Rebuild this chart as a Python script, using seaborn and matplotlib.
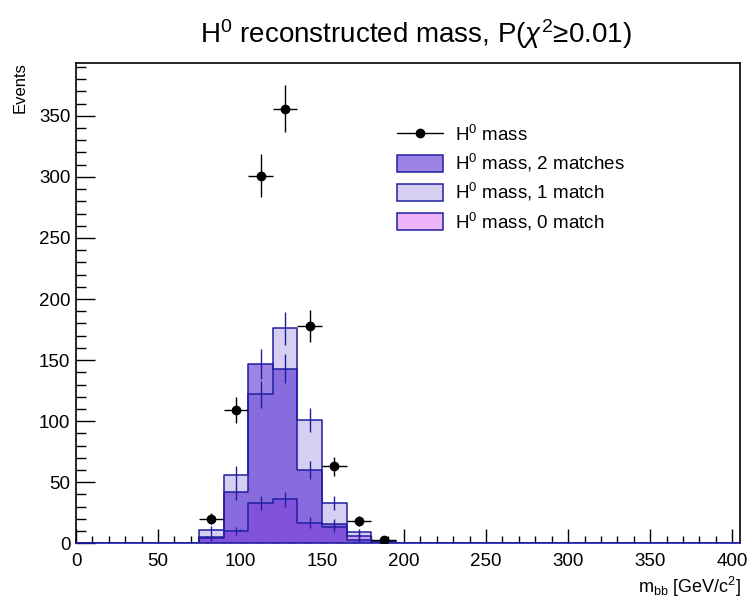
import numpy as np
import pandas as pd
import matplotlib
matplotlib.use("Agg")
import matplotlib.pyplot as plt
from matplotlib.lines import Line2D
from matplotlib.patches import Patch
from matplotlib.ticker import MultipleLocator
import seaborn as sns

# histogram binning (GeV/c^2)
bin_width = 15
x_max = 405
first_filled = 75  # low edge of first non-empty bin

# counts in the non-empty bins 75-90 ... 180-195
data_counts = [20, 109, 301, 356, 178, 63, 18, 3]
match2_counts = [5, 42, 147, 143, 60, 16, 3, 0]
match1_counts = [11, 56, 122, 176, 101, 33, 9, 2]
match0_counts = [4, 10, 33, 36, 17, 13, 6, 1]

labels = ["H$^{0}$ mass", "H$^{0}$ mass, 2 matches", "H$^{0}$ mass, 1 match", "H$^{0}$ mass, 0 match"]

sns.set_style("ticks")
plt.rcParams['font.family'] = ['Liberation Sans', 'DejaVu Sans']
plt.rcParams['mathtext.fontset'] = 'custom'
plt.rcParams['mathtext.rm'] = 'Liberation Sans'
plt.rcParams['mathtext.it'] = 'Liberation Sans:italic'
for k in ['text.color', 'axes.labelcolor', 'xtick.color', 'ytick.color', 'axes.edgecolor']:
    plt.rcParams[k] = 'black'

edges = np.arange(0, x_max + bin_width, bin_width)
centers = edges[:-1] + bin_width / 2
n_bins = len(centers)
start = first_filled // bin_width


def full(vals):
    out = np.zeros(n_bins)
    out[start:start + len(vals)] = vals
    return pd.DataFrame({"mass": centers, "w": out})


blue = "#1f1fa0"
fills = [
    (match0_counts, (238/255, 180/255, 250/255, 1.0)),
    (match1_counts, (125/255, 98/255, 215/255, 0.30)),
    (match2_counts, (59/255, 11/255, 203/255, 0.50)),
]

fig = plt.figure(figsize=(7.51, 6.06), dpi=100)
ax = fig.add_axes([0.1012, 0.1035, 0.8846, 0.792])

bin_list = [float(e) for e in edges]
for vals, fc in fills:
    sns.histplot(data=full(vals), x="mass", weights="w", bins=bin_list, element="step", fill=True,
                 facecolor=fc, edgecolor="none", linewidth=0, ax=ax)
for vals, fc in fills:
    sns.histplot(data=full(vals), x="mass", weights="w", bins=bin_list, element="step", fill=False,
                 color=blue, linewidth=1.1, ax=ax)
    v = np.array(vals, dtype=float)
    c = centers[start:start + len(vals)]
    nz = v > 0
    ax.errorbar(c[nz], v[nz], yerr=np.sqrt(v[nz]), fmt="none", ecolor=blue, elinewidth=1.0)

d = np.array(data_counts, dtype=float)
cd = centers[start:start + len(d)]
ax.errorbar(cd, d, xerr=bin_width / 2, yerr=np.sqrt(d), fmt="o", color="black",
            ms=6, elinewidth=1.0, capsize=0, zorder=5)

ax.set_xlim(0, x_max)
ax.set_ylim(0, 393)
ax.set_xlabel("")
ax.set_ylabel("")
ax.xaxis.set_major_locator(MultipleLocator(50))
ax.xaxis.set_minor_locator(MultipleLocator(10))
ax.yaxis.set_major_locator(MultipleLocator(50))
ax.yaxis.set_minor_locator(MultipleLocator(10))
ax.tick_params(axis="y", which="major", direction="in", length=14, width=1, labelsize=13.5, pad=4)
ax.tick_params(axis="y", which="minor", direction="in", length=7, width=1)
ax.tick_params(axis="x", which="major", direction="in", length=10, width=1, labelsize=13.5, pad=7)
ax.tick_params(axis="x", which="minor", direction="in", length=5, width=1)
for s in ax.spines.values():
    s.set_visible(True)
    s.set_color("black")
    s.set_linewidth(1.2)
# histogram baseline sits on top of the x axis in the original
ax.spines["bottom"].set_color(blue)

handles = [Line2D([], [], color="black", marker="o", ms=6, lw=1.0)]
for vals, fc in [fills[2], fills[1], fills[0]]:
    handles.append(Patch(facecolor=fc, edgecolor=blue, linewidth=1.1))
ax.legend(handles, labels, loc="upper left", bbox_to_anchor=(0.4825, 0.872), frameon=False,
          fontsize=13.5, borderpad=0, borderaxespad=0, handlelength=2.5, handleheight=1.0,
          handletextpad=0.6, labelspacing=0.38)

fig.text(416/751, 1 - 43/606, r"H$^{0}$ reconstructed mass, P($\chi^{2}$≥0.01)",
         ha="center", va="baseline", fontsize=20)
fig.text(20/751, 1 - 62/606, "Events", rotation=90, ha="center", va="top", fontsize=12)
fig.text(741/751, 1 - 593/606, r"m$_{\rm bb}$ [GeV/c$^{2}$]", ha="right", va="baseline", fontsize=13)

fig.savefig("out.png", dpi=100)
